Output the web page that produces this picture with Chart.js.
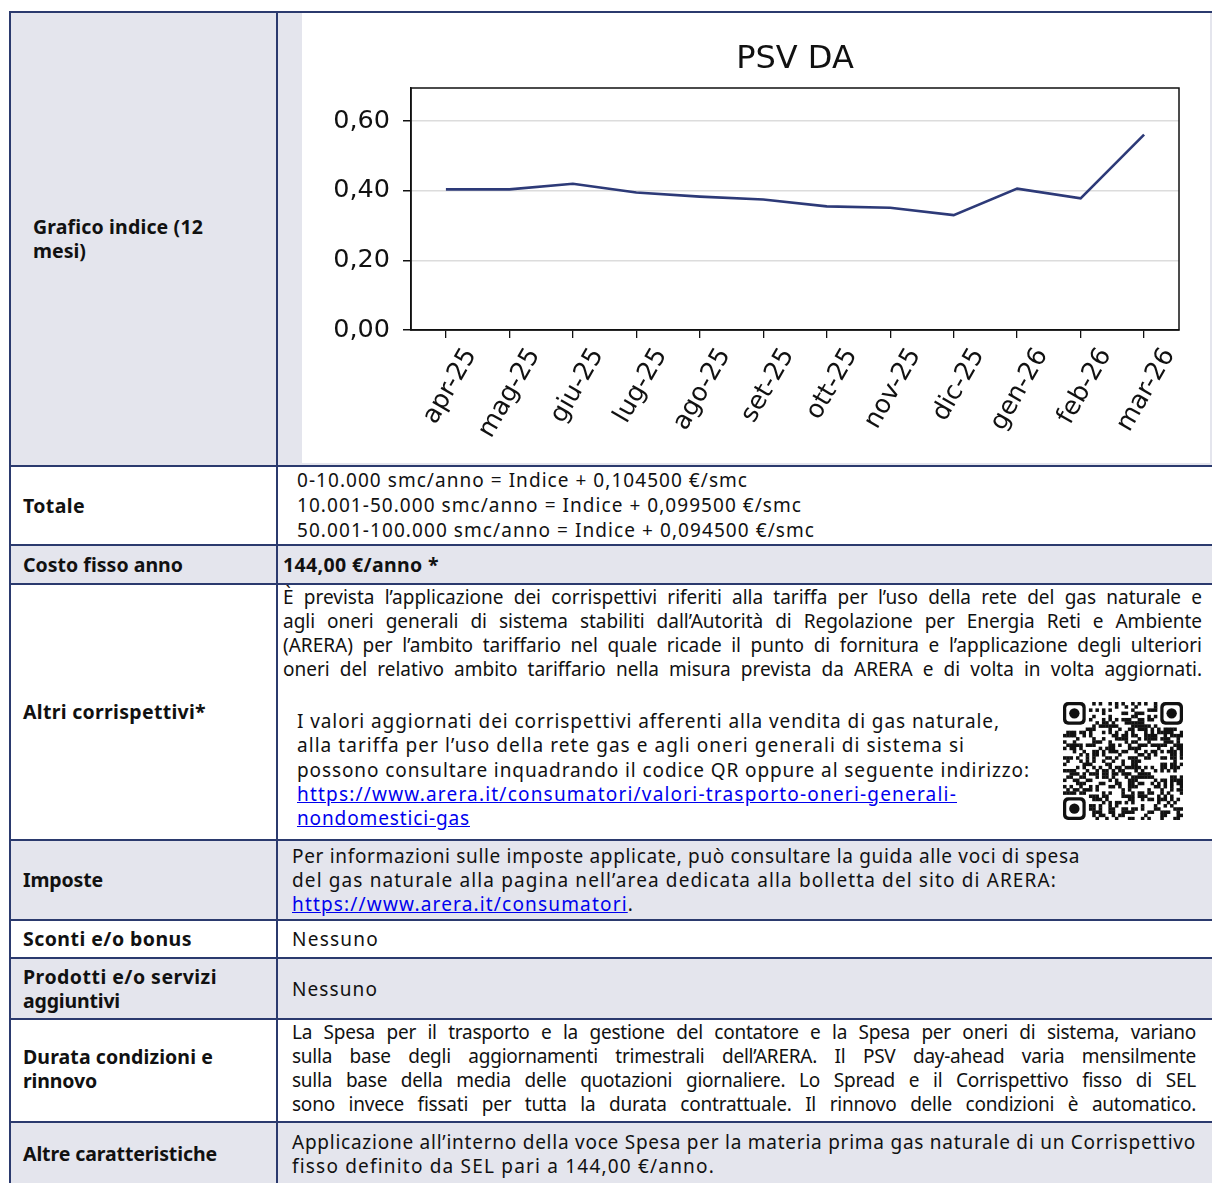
<!DOCTYPE html>
<html>
<head>
<meta charset="utf-8">
<script src="https://cdn.jsdelivr.net/npm/chart.js@4.4.1/dist/chart.umd.min.js"></script>
<style>
body{margin:0;background:#fff;width:1212px;height:1183px;overflow:hidden;position:relative;font-family:'Noto Sans',sans-serif;font-size:19px;color:#111;}
#tbl{position:absolute;left:9px;top:11px;display:grid;grid-template-columns:265px 940px;grid-template-rows:452px 77px 37px 254px 78px 36px 59px 101px 62px;gap:2px;padding:2px;background:#2b3a6e;}
.c{background:#fff;position:relative;}
.g{background:#e4e5ed;}
.lab{display:flex;align-items:center;padding-left:12px;font-weight:bold;font-size:19.5px;line-height:24px;}
.val{display:flex;flex-direction:column;justify-content:center;line-height:24px;padding-left:14px;}
.val > div, .lab > div > div, .p > div{white-space:nowrap;}
a{color:#0000ee;text-decoration:underline;}
.j{text-align:justify;text-align-last:justify;white-space:nowrap;}
#chartBox{position:absolute;left:24px;top:0;width:908px;height:450px;background:#fff;}
#qr{position:absolute;left:785px;top:117px;}
</style>
</head>
<body>
<div id="tbl">
  <div class="c g lab" style="padding-left:22px"><div><div data-w="170">Grafico indice (12</div><div data-w="53">mesi)</div></div></div>
  <div class="c g"><div id="chartBox"><canvas id="psvChart" width="908" height="450"></canvas></div></div>

  <div class="c lab"><div><div data-w="62">Totale</div></div></div>
  <div class="c val" style="padding-left:19px;line-height:25px">
    <div data-w="451">0-10.000 smc/anno = Indice + 0,104500 €/smc</div>
    <div data-w="505">10.001-50.000 smc/anno = Indice + 0,099500 €/smc</div>
    <div data-w="518">50.001-100.000 smc/anno = Indice + 0,094500 €/smc</div>
  </div>

  <div class="c g lab"><div><div data-w="160">Costo fisso anno</div></div></div>
  <div class="c g val" style="padding-left:5px;font-weight:bold;font-size:19.5px"><div data-w="156">144,00 €/anno *</div></div>

  <div class="c lab"><div><div data-w="183">Altri corrispettivi*</div></div></div>
  <div class="c" style="line-height:24px">
    <div class="p" style="position:absolute;left:5px;top:0;">
      <div class="j" data-w="919">È prevista l’applicazione dei corrispettivi riferiti alla tariffa per l’uso della rete del gas naturale e</div>
      <div class="j" data-w="919">agli oneri generali di sistema stabiliti dall’Autorità di Regolazione per Energia Reti e Ambiente</div>
      <div class="j" data-w="919">(ARERA) per l’ambito tariffario nel quale ricade il punto di fornitura e l’applicazione degli ulteriori</div>
      <div class="j" data-w="919">oneri del relativo ambito tariffario nella misura prevista da ARERA e di volta in volta aggiornati.</div>
    </div>
    <div class="p" style="position:absolute;left:19px;top:124px;line-height:24.25px">
      <div data-w="703">I valori aggiornati dei corrispettivi afferenti alla vendita di gas naturale,</div>
      <div data-w="668">alla tariffa per l’uso della rete gas e agli oneri generali di sistema si</div>
      <div data-w="733">possono consultare inquadrando il codice QR oppure al seguente indirizzo:</div>
      <div data-w="660"><a>https://www.arera.it/consumatori/valori-trasporto-oneri-generali-</a></div>
      <div data-w="173"><a>nondomestici-gas</a></div>
    </div>
    <canvas id="qr" width="120" height="118"></canvas>
  </div>

  <div class="c g lab"><div><div data-w="80">Imposte</div></div></div>
  <div class="c g val">
    <div data-w="788">Per informazioni sulle imposte applicate, può consultare la guida alle voci di spesa</div>
    <div data-w="765">del gas naturale alla pagina nell’area dedicata alla bolletta del sito di ARERA:</div>
    <div data-w="342"><a>https://www.arera.it/consumatori</a>.</div>
  </div>

  <div class="c lab"><div><div data-w="169">Sconti e/o bonus</div></div></div>
  <div class="c val"><div data-w="87">Nessuno</div></div>

  <div class="c g lab"><div><div data-w="194">Prodotti e/o servizi</div><div data-w="97">aggiuntivi</div></div></div>
  <div class="c g val"><div data-w="86">Nessuno</div></div>

  <div class="c lab" style="padding-bottom:4px"><div><div data-w="190">Durata condizioni e</div><div data-w="74">rinnovo</div></div></div>
  <div class="c val" style="padding-bottom:5px">
    <div class="j" data-w="904">La Spesa per il trasporto e la gestione del contatore e la Spesa per oneri di sistema, variano</div>
    <div class="j" data-w="904">sulla base degli aggiornamenti trimestrali dell’ARERA. Il PSV day-ahead varia mensilmente</div>
    <div class="j" data-w="904">sulla base della media delle quotazioni giornaliere. Lo Spread e il Corrispettivo fisso di SEL</div>
    <div class="j" data-w="904">sono invece fissati per tutta la durata contrattuale. Il rinnovo delle condizioni è automatico.</div>
  </div>

  <div class="c g lab"><div><div data-w="194">Altre caratteristiche</div></div></div>
  <div class="c g val">
    <div data-w="904">Applicazione all’interno della voce Spesa per la materia prima gas naturale di un Corrispettivo</div>
    <div data-w="423">fisso definito da SEL pari a 144,00 €/anno.</div>
  </div>
</div>

<script>
// PSV DA monthly index
const months = ['apr-25', 'mag-25', 'giu-25', 'lug-25', 'ago-25', 'set-25', 'ott-25', 'nov-25', 'dic-25', 'gen-26', 'feb-26', 'mar-26'];
const psvDa = [0.404, 0.404, 0.420, 0.395, 0.383, 0.375, 0.355, 0.351, 0.330, 0.406, 0.378, 0.561];
const yTicks = [0, 0.2, 0.4, 0.6];

// stretch / squeeze each text line to the width it has in the document
document.querySelectorAll('[data-w]').forEach(el => {
    const target = +el.dataset.w;
    const s = document.createElement('span');
    s.style.whiteSpace = 'nowrap';
    while (el.firstChild) s.appendChild(el.firstChild);
    el.appendChild(s);
    const w = s.getBoundingClientRect().width;
    if (el.classList.contains('j')) {
        el.style.width = target + 'px';
        if (w <= target) return;
    }
    s.style.letterSpacing = ((target - w) / s.textContent.length) + 'px';
});

Chart.defaults.font.family = 'DejaVu Sans';

// matplotlib-style box around the plot
const frame = {
    id: 'frame',
    afterDraw(chart) {
        const a = chart.chartArea, c = chart.ctx;
        c.save();
        c.strokeStyle = '#111';
        c.lineWidth = 1.5;
        c.strokeRect(a.left, a.top, a.right - a.left, a.bottom - a.top);
        c.restore();
    }
};

var ctx = document.getElementById('psvChart').getContext('2d');
var psvChart = new Chart(ctx, {
    type: 'line',
    data: {
        datasets: [{
            label: 'PSV DA',
            data: months.map((m, i) => ({x: i, y: psvDa[i]})),
            borderColor: '#2d3a78',
            borderWidth: 2.6,
            pointRadius: 0,
            tension: 0
        }]
    },
    options: {
        responsive: false,
        animation: false,
        layout: {padding: {left: 0, right: 31, top: 0, bottom: 0}},
        plugins: {
            legend: {display: false},
            tooltip: {enabled: false},
            title: {
                display: true,
                fullSize: false,
                text: 'PSV DA',
                color: '#111',
                font: {size: 32, weight: 'normal', lineHeight: 1.2},
                padding: {top: 27, bottom: 9.6}
            }
        },
        scales: {
            x: {
                type: 'linear',
                min: -0.55,
                max: 11.55,
                afterBuildTicks: s => { s.ticks = months.map((m, i) => ({value: i})); },
                afterFit: s => { s.height = 133; },
                grid: {drawOnChartArea: false, drawTicks: true, tickLength: 8, tickColor: '#111', lineWidth: 1.3},
                border: {color: '#111', width: 1.5},
                ticks: {
                    color: '#111',
                    font: {size: 25.5},
                    minRotation: 60,
                    maxRotation: 60,
                    padding: 5,
                    labelOffset: 25,
                    autoSkip: false,
                    callback: v => months[Math.round(v)]
                }
            },
            y: {
                min: 0,
                max: 0.695,
                afterBuildTicks: s => { s.ticks = yTicks.map(v => ({value: v})); },
                afterFit: s => { s.width = 109; },
                grid: {color: '#dcdcdc', lineWidth: 1.5, tickLength: 8, tickColor: '#111'},
                border: {color: '#111', width: 1.5},
                ticks: {
                    color: '#111',
                    font: {size: 25.5},
                    padding: 13,
                    callback: v => v.toFixed(2).replace('.', ',')
                }
            }
        }
    },
    plugins: [frame]
});

// QR code picture (decorative pattern with three finder squares)
var q = document.getElementById('qr').getContext('2d');
var n = 37, m = 120 / n;
q.fillStyle = '#fff';
q.fillRect(0, 0, 120, 118);
q.fillStyle = '#111';
for (var r = 0; r < n; r++) {
    for (var k = 0; k < n; k++) {
        var inFinder = (r < 8 && k < 8) || (r < 8 && k > n - 9) || (r > n - 9 && k < 8);
        if (inFinder) continue;
        var h = (r * 73856093 ^ k * 19349663 ^ (r * k * 83492791)) >>> 0;
        if (h % 7 < 3) q.fillRect(k * m, r * m * 118 / 120, m + 0.3, m + 0.3);
    }
}
function finder(x, y) {
    var s = 7 * m;
    q.fillStyle = '#111';
    q.beginPath(); q.roundRect(x, y, s, s, 5); q.fill();
    q.fillStyle = '#fff';
    q.beginPath(); q.roundRect(x + m, y + m, s - 2 * m, s - 2 * m, 3); q.fill();
    q.fillStyle = '#111';
    q.beginPath(); q.arc(x + s / 2, y + s / 2, 1.6 * m, 0, Math.PI * 2); q.fill();
}
finder(0, 0);
finder(120 - 7 * m, 0);
finder(0, 118 - 7 * m);
</script>
</body>
</html>
